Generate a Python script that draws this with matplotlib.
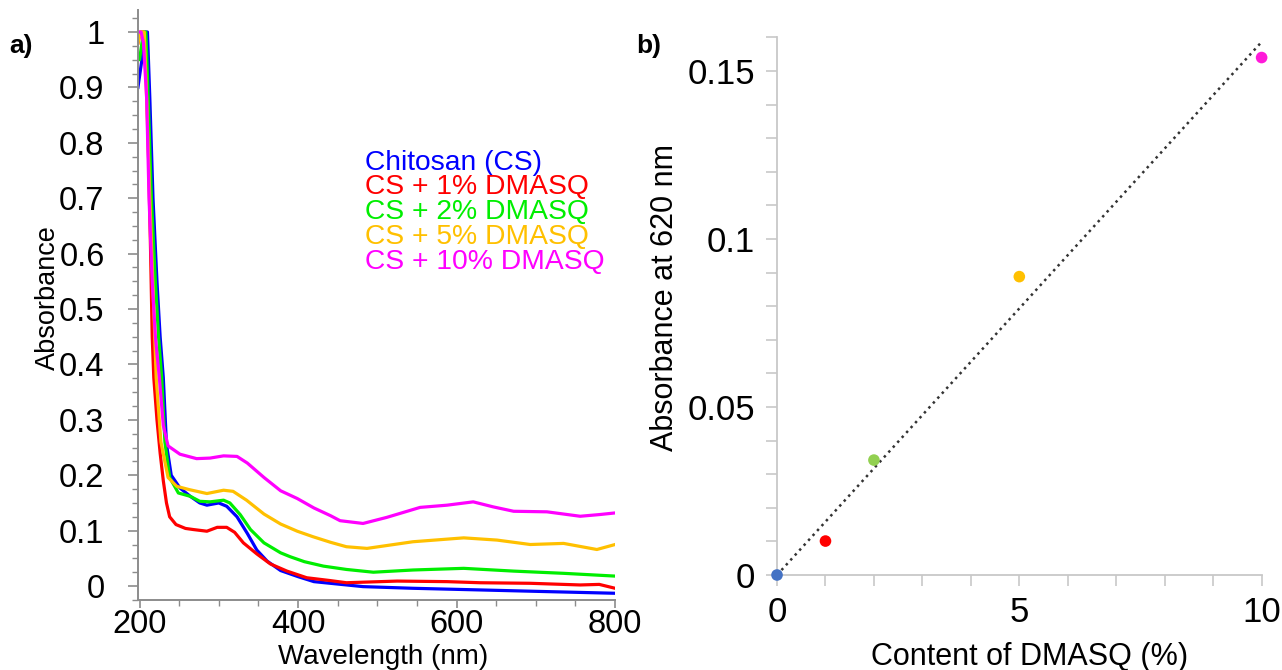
import numpy as np
import matplotlib
matplotlib.use('Agg')
import matplotlib.pyplot as plt
from matplotlib.ticker import MultipleLocator

plt.rcParams['font.family'] = ['Liberation Sans', 'DejaVu Sans']

# ---- panel a: UV-vis spectra ----
wl_cs = [198, 201, 204, 206, 210, 213, 217, 222, 226, 230, 234, 240, 251, 264, 276, 285,
         300, 310, 323, 336, 348, 361, 378, 400, 420, 482, 545, 630, 714, 800]
abs_cs = [0.90, 0.93, 0.96, 1.0, 1.0, 0.88, 0.70, 0.55, 0.45, 0.376, 0.256, 0.20, 0.177, 0.162,
          0.150, 0.146, 0.150, 0.144, 0.125, 0.095, 0.065, 0.045, 0.028, 0.017, 0.008, -0.001,
          -0.004, -0.007, -0.010, -0.013]

wl_1 = [198, 201, 205, 208, 211, 214, 216, 218, 222, 226, 230, 234, 238, 246, 258, 268, 285,
        298, 310, 320, 331, 348, 365, 386, 411, 440, 461, 525, 588, 630, 693, 756, 780, 800]
abs_1 = [0.98, 1.0, 1.0, 0.95, 0.80, 0.60, 0.45, 0.376, 0.30, 0.24, 0.19, 0.15, 0.125, 0.111,
         0.104, 0.102, 0.099, 0.106, 0.106, 0.097, 0.078, 0.058, 0.040, 0.027, 0.015, 0.010,
         0.006, 0.009, 0.008, 0.006, 0.005, 0.002, 0.003, -0.004]

wl_2 = [198, 200, 203, 205, 208, 211, 215, 220, 224, 228, 232, 238, 249, 264, 276, 289, 306,
        314, 327, 340, 357, 378, 390, 408, 432, 461, 495, 545, 609, 672, 735, 800]
abs_2 = [0.96, 0.95, 0.98, 1.0, 1.0, 0.88, 0.70, 0.55, 0.45, 0.376, 0.26, 0.196, 0.168, 0.162,
         0.153, 0.152, 0.155, 0.150, 0.129, 0.102, 0.078, 0.060, 0.053, 0.044, 0.036, 0.030,
         0.025, 0.029, 0.032, 0.027, 0.023, 0.018]

wl_5 = [198, 201, 206, 209, 213, 218, 221, 227, 236, 247, 263, 285, 306, 318, 335, 357, 378,
        399, 419, 441, 461, 487, 545, 609, 651, 693, 735, 777, 800]
abs_5 = [0.98, 1.0, 1.0, 0.88, 0.70, 0.50, 0.376, 0.26, 0.196, 0.18, 0.174, 0.167, 0.173, 0.171,
         0.155, 0.130, 0.112, 0.099, 0.089, 0.079, 0.071, 0.068, 0.080, 0.087, 0.083, 0.075,
         0.077, 0.066, 0.075]

wl_10 = [198, 202, 205, 209, 212, 216, 220, 225, 230, 236, 251, 272, 289, 306, 323, 336, 357,
         378, 399, 420, 441, 453, 482, 512, 554, 588, 621, 646, 672, 714, 756, 780, 800]
abs_10 = [1.0, 1.0, 0.98, 0.88, 0.70, 0.55, 0.45, 0.376, 0.29, 0.253, 0.238, 0.230, 0.231,
          0.235, 0.234, 0.222, 0.196, 0.172, 0.158, 0.141, 0.127, 0.118, 0.113, 0.124, 0.142,
          0.146, 0.152, 0.143, 0.135, 0.134, 0.126, 0.129, 0.132]

series_names = ['Chitosan (CS)', 'CS + 1% DMASQ', 'CS + 2% DMASQ', 'CS + 5% DMASQ', 'CS + 10% DMASQ']
line_colors = ['#0000ff', '#ff0000', '#00ee00', '#ffc000', '#ff00ff']

# ---- panel b: absorbance at 620 nm vs content ----
content = [0, 1, 2, 5, 10]
abs620 = [0.0, 0.0101, 0.0342, 0.0888, 0.154]
point_colors = ['#4472c4', '#ff0000', '#92d050', '#ffc000', '#ff1ad9']

fig = plt.figure(figsize=(12.82, 6.70), dpi=100)
ax1 = fig.add_axes([0.1076, 0.1046, 0.3722, 0.8807])
ax2 = fig.add_axes([0.6061, 0.1418, 0.3780, 0.8024])

spectra = [(wl_cs, abs_cs), (wl_1, abs_1), (wl_2, abs_2), (wl_5, abs_5), (wl_10, abs_10)]
for (x, y), c in zip(spectra, line_colors):
    ax1.plot(x, y, color=c, lw=2.3)

ax1.set_xlim(198, 800)
ax1.set_ylim(-0.025, 1.04)
ax1.xaxis.set_major_locator(MultipleLocator(200))
ax1.xaxis.set_minor_locator(MultipleLocator(50))
ax1.yaxis.set_minor_locator(MultipleLocator(0.025))
ax1.set_yticks(np.arange(0, 1.01, 0.1))
ax1.set_yticklabels(['0', '0.1', '0.2', '0.3', '0.4', '0.5', '0.6', '0.7', '0.8', '0.9', '1'])
for s in ['top', 'right']:
    ax1.spines[s].set_visible(False)
for s in ['left', 'bottom']:
    ax1.spines[s].set_color('#8c8c8c')
    ax1.spines[s].set_linewidth(1.4)
ax1.tick_params(axis='y', which='major', length=7, width=1.2, color='#8c8c8c', labelsize=23.5, pad=17)
ax1.tick_params(axis='y', which='minor', length=4, width=1, color='#8c8c8c')
ax1.tick_params(axis='x', which='major', length=6, width=1.2, color='#8c8c8c', labelsize=23.5, pad=0.5)
ax1.tick_params(axis='x', which='minor', length=4, width=1, color='#8c8c8c')
ax1.set_xlabel('Wavelength (nm)', fontsize=20)
ax1.set_ylabel('Absorbance', fontsize=19.5)
ax1.xaxis.set_label_coords(0.514, -0.074)
ax1.yaxis.set_label_coords(-0.161, 0.512)

legend_y = [0.764, 0.720, 0.675, 0.630, 0.584]
for name, c, yy in zip(series_names, line_colors, legend_y):
    ax1.text(484, yy, name, color=c, fontsize=20.3, va='center', ha='left')

# panel b
slope = np.sum(np.array(content) * np.array(abs620)) / np.sum(np.array(content) ** 2)
fit_x = np.array([0, 10])
ax2.plot(fit_x, slope * fit_x, color='#333333', ls=':', lw=1.8)
ax2.scatter(content, abs620, c=point_colors, s=70, zorder=3, clip_on=False, edgecolors='none')

ax2.set_xlim(0, 10)
ax2.set_ylim(0, 0.16)
ax2.xaxis.set_minor_locator(MultipleLocator(1))
ax2.yaxis.set_minor_locator(MultipleLocator(0.01))
ax2.set_yticks([0, 0.05, 0.1, 0.15])
ax2.set_yticklabels(['0', '0.05', '0.1', '0.15'])
ax2.set_xticks([0, 5, 10])
ax2.set_xticklabels(['0', '5', '10'])
for s in ['top', 'right']:
    ax2.spines[s].set_visible(False)
for s in ['left', 'bottom']:
    ax2.spines[s].set_color('#c8c8c8')
    ax2.spines[s].set_linewidth(1.3)
ax2.tick_params(axis='both', which='both', length=8, width=1.2, color='#c8c8c8')
ax2.tick_params(axis='y', which='major', labelsize=25, pad=8)
ax2.tick_params(axis='x', which='major', labelsize=25, pad=7)
ax2.set_xlabel('Content of DMASQ (%)', fontsize=22)
ax2.set_ylabel('Absorbance at 620 nm', fontsize=22)
ax2.xaxis.set_label_coords(0.522, -0.124)
ax2.yaxis.set_label_coords(-0.200, 0.517)

fig.text(9 / 1282, 1 - 46 / 670, 'a)', fontsize=19, weight='bold', va='center', ha='left')
fig.text(636 / 1282, 1 - 46 / 670, 'b)', fontsize=19, weight='bold', va='center', ha='left')

fig.savefig('out.png', dpi=100)
